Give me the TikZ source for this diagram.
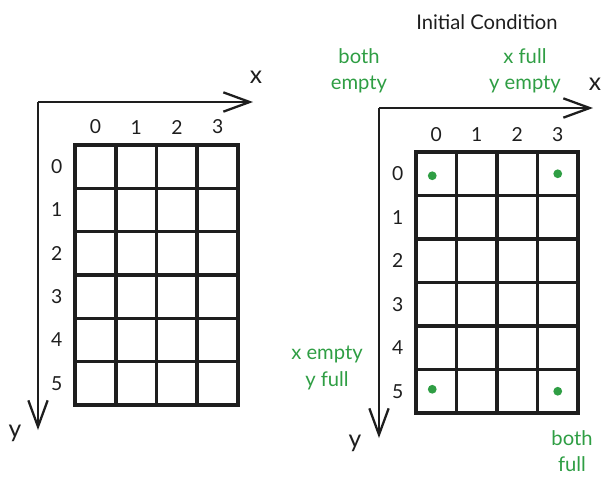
\documentclass[tikz,border=0pt]{standalone}
\usepackage{fontspec}
\setmainfont{Lato}
\usetikzlibrary{positioning,arrows.meta}
\definecolor{markgreen}{HTML}{2F9E44}
\definecolor{ink}{HTML}{1E1E1E}
\tikzset{
	cell/.style={draw=ink, line width=2pt, inner sep=0pt, outer sep=0pt, minimum width=0.812cm, minimum height=0.868cm},
	axis/.style={draw=ink, line width=1.3pt, -{Straight Barb[length=15pt, width=11pt]}},
	idx/.style={text=ink, inner sep=0pt, font=\fontsize{11}{13}\selectfont},
	axislbl/.style={text=ink, inner sep=0pt, font=\fontsize{14}{16}\selectfont},
	note/.style={text=markgreen, align=center, inner sep=0pt, font=\fontsize{11.5}{15}\selectfont},
	dot/.style={fill=markgreen, circle, inner sep=0pt, minimum size=5pt},
}
\begin{document}
\begin{tikzpicture}[x=0.02cm, y=-0.02cm]
		\useasboundingbox (0,0) rectangle (613,485);

		% left grid
		\foreach \c in {0,...,3}
			\foreach \r in {0,...,5}
				\node (l-\c-\r)[cell] at ({75+40.75*(\c+0.5)},{145+43.33*(\r+0.5)}) {};
		\foreach \c in {0,...,3}
			\node (lcol\c)[idx, above=6pt of l-\c-0] {\c};
		\foreach \r in {0,...,5}
			\node (lrow\r)[idx, left=7pt of l-0-\r] {\r};

		\coordinate (lo) at (38,102);
		\coordinate (lx) at (253,102);
		\coordinate (ly) at (38,430);
		\draw [axis](lo) to (lx);
		\draw [axis](lo) to (ly);
		\node (lxl)[axislbl] at (256,77) {x};
		\node (lyl)[axislbl] at (15,433) {y};

		% right grid
		\foreach \c in {0,...,3}
			\foreach \r in {0,...,5}
				\node (r-\c-\r)[cell] at ({416+40.5*(\c+0.5)},{152+43.5*(\r+0.5)}) {};
		\foreach \c in {0,...,3}
			\node (rcol\c)[idx, above=6pt of r-\c-0] {\c};
		\foreach \r in {0,...,5}
			\node (rrow\r)[idx, left=7pt of r-0-\r] {\r};

		\coordinate (ro) at (379,108);
		\coordinate (rx) at (593,108);
		\coordinate (ry) at (379,438);
		\draw [axis](ro) to (rx);
		\draw [axis](ro) to (ry);
		\node (rxl)[axislbl] at (595,84) {x};
		\node (ryl)[axislbl] at (355,443) {y};

		\node (title)[idx, font=\fontsize{11.5}{14}\selectfont] at (487,22) {Initial Condition};

		\node (d00)[dot] at ([shift={(-4,2)}]r-0-0) {};
		\node (d30)[dot] at (r-3-0) {};
		\node (d05)[dot] at ([shift={(-4,-2)}]r-0-5) {};
		\node (d35)[dot] at (r-3-5) {};

		\node (n00)[note] at (359,71) {both\\empty};
		\node (n30)[note] at (525,71) {x full\\y empty};
		\node (n05)[note] at (327,368) {x empty\\y full};
		\node (n35)[note] at (572,451) {both\\full};
	\end{tikzpicture}
\end{document}
